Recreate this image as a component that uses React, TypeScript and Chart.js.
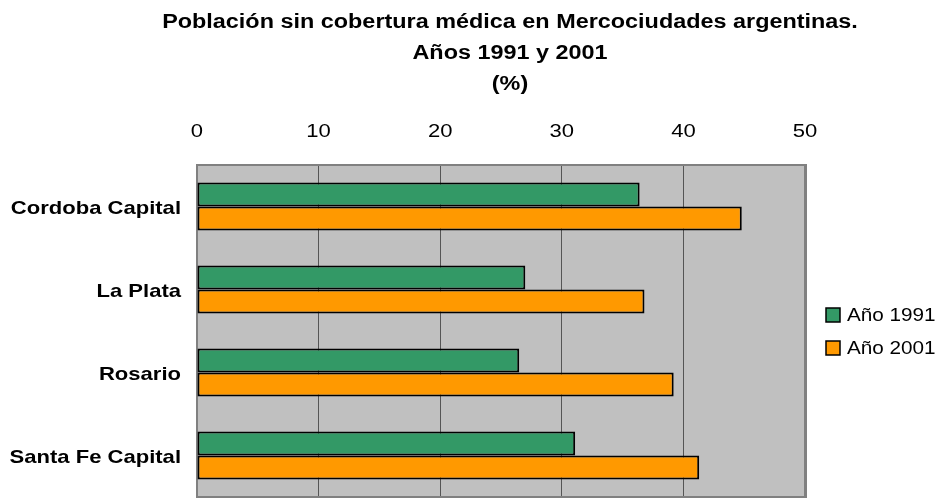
import React, { useEffect, useRef } from "react";
import { Chart, registerables } from "chart.js";

Chart.register(...registerables);

const titleLines = [
  "Población sin cobertura médica en Mercociudades argentinas.",
  "Años 1991 y 2001",
  "(%)",
];
const categories = ["Cordoba Capital", "La Plata", "Rosario", "Santa Fe Capital"];
const seriesNames = ["Año 1991", "Año 2001"];
const values1991 = [36.4, 27.0, 26.5, 31.1];
const values2001 = [44.8, 36.8, 39.2, 41.3];
const xTicks = [0, 10, 20, 30, 40, 50];
const seriesColors = ["#339966", "#FF9900"];

const FONT = '"Liberation Sans", Arial, sans-serif';

function drawStretched(
  ctx: CanvasRenderingContext2D,
  text: string,
  x: number,
  y: number,
  align: CanvasTextAlign,
  font: string,
  sx: number
) {
  ctx.save();
  ctx.translate(x, y);
  ctx.scale(sx, 1);
  ctx.font = font;
  ctx.fillStyle = "#000";
  ctx.textAlign = align;
  ctx.textBaseline = "alphabetic";
  ctx.fillText(text, 0, 0);
  ctx.restore();
}

const decorPlugin = {
  id: "decor",
  beforeDraw(chart: any) {
    const { ctx, chartArea } = chart;
    ctx.save();
    ctx.fillStyle = "#C0C0C0";
    ctx.fillRect(chartArea.left, chartArea.top, chartArea.right - chartArea.left, chartArea.bottom - chartArea.top);
    ctx.restore();
  },
  beforeDatasetsDraw(chart: any) {
    const { ctx, chartArea } = chart;
    ctx.save();
    ctx.strokeStyle = "#808080";
    ctx.lineWidth = 2;
    ctx.strokeRect(chartArea.left, chartArea.top, chartArea.right - chartArea.left, chartArea.bottom - chartArea.top);
    ctx.fillStyle = "#808080";
    ctx.fillRect(chartArea.right, chartArea.top - 1, 2, chartArea.bottom - chartArea.top + 2);
    ctx.restore();
  },
  afterDraw(chart: any) {
    const { ctx, chartArea, scales } = chart;
    const titleBase = [28, 59, 90];
    titleLines.forEach((t, i) => {
      drawStretched(ctx, t, 510, titleBase[i], "center", `bold 20px ${FONT}`, 1.17);
    });
    xTicks.forEach((v) => {
      const x = scales.x.getPixelForValue(v);
      drawStretched(ctx, String(v), x, 137, "center", `19px ${FONT}`, 1.16);
    });
    categories.forEach((c, i) => {
      const y = scales.y.getPixelForValue(i);
      drawStretched(ctx, c, chartArea.left - 16, y + 7, "right", `bold 19px ${FONT}`, 1.16);
    });
    const legendX = 826;
    const legendY = [308, 341];
    seriesNames.forEach((n, i) => {
      ctx.save();
      ctx.fillStyle = seriesColors[i];
      ctx.fillRect(legendX, legendY[i], 14, 14);
      ctx.strokeStyle = "#000";
      ctx.lineWidth = 1.5;
      ctx.strokeRect(legendX, legendY[i], 14, 14);
      ctx.restore();
      drawStretched(ctx, n, legendX + 21, legendY[i] + 13, "left", `18px ${FONT}`, 1.15);
    });
  },
};

export default function App() {
  const ref = useRef<HTMLCanvasElement | null>(null);
  useEffect(() => {
    if (!ref.current) return;
    const chart = new Chart(ref.current, {
      type: "bar",
      data: {
        labels: categories,
        datasets: [
          {
            label: seriesNames[0],
            data: values1991,
            backgroundColor: seriesColors[0],
            borderColor: "#000",
            borderWidth: 2,
            borderSkipped: false,
            categoryPercentage: 0.58,
            barPercentage: 1.0,
          },
          {
            label: seriesNames[1],
            data: values2001,
            backgroundColor: seriesColors[1],
            borderColor: "#000",
            borderWidth: 2,
            borderSkipped: false,
            categoryPercentage: 0.58,
            barPercentage: 1.0,
          },
        ],
      },
      options: {
        indexAxis: "y",
        animation: false,
        responsive: false,
        maintainAspectRatio: false,
        layout: { padding: { top: 0, left: 0, right: 136, bottom: 2 } },
        plugins: {
          legend: { display: false },
          title: { display: false },
          tooltip: { enabled: false },
        },
        scales: {
          x: {
            position: "top",
            min: 0,
            max: 50,
            ticks: { display: false, stepSize: 10 },
            grid: { color: "#555555", lineWidth: 1, drawTicks: false },
            border: { display: false },
            afterFit: (s: any) => {
              s.height = 165;
            },
          },
          y: {
            ticks: { display: false },
            grid: { display: false, drawTicks: false },
            border: { display: false },
            afterFit: (s: any) => {
              s.width = 197;
            },
          },
        },
      },
      plugins: [decorPlugin],
    } as any);
    return () => chart.destroy();
  }, []);
  return (
    <div style={{ position: "absolute", left: 0, top: 0, width: 941, height: 499, background: "#fff" }}>
      <canvas ref={ref} width={941} height={499} style={{ display: "block", width: 941, height: 499 }} />
    </div>
  );
}
